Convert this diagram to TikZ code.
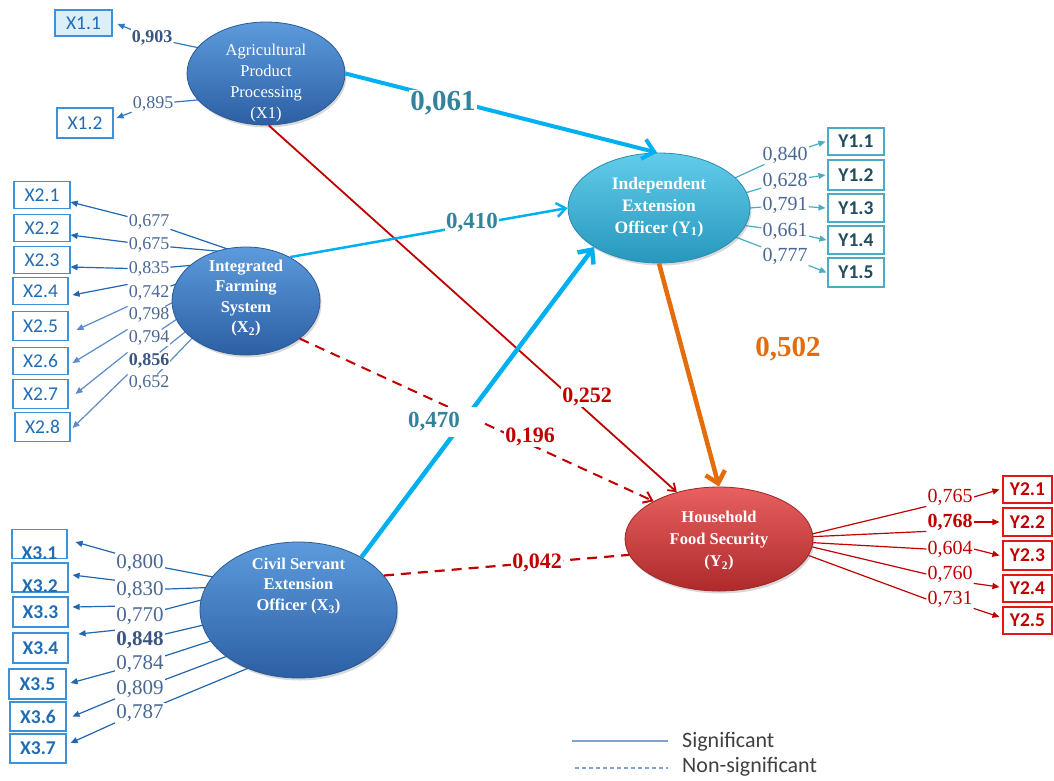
\documentclass[tikz,border=0pt]{standalone}
\usepackage{fontspec}
\setmainfont{Liberation Serif}
\newfontfamily\calib{Carlito}
\usetikzlibrary{arrows.meta,shapes.geometric,shadows}
\pgfdeclarelayer{background}
\pgfsetlayers{background,main}
\definecolor{ellBt}{HTML}{5C9BDD}
\definecolor{ellBb}{HTML}{2C5FA3}
\definecolor{ellBd}{HTML}{2B5A94}
\definecolor{ellCt}{HTML}{62CCEA}
\definecolor{ellCb}{HTML}{2797BD}
\definecolor{ellCd}{HTML}{2A8CAE}
\definecolor{ellRt}{HTML}{E86060}
\definecolor{ellRb}{HTML}{AE2A2A}
\definecolor{ellRd}{HTML}{9E2626}
\definecolor{cyanL}{HTML}{00B0F0}
\definecolor{tealT}{HTML}{31849B}
\definecolor{redL}{HTML}{C00000}
\definecolor{orangeL}{HTML}{E46C0A}
\definecolor{slateT}{HTML}{4A6894}
\definecolor{slateD}{HTML}{3A5580}
\definecolor{boxB}{HTML}{3C92D8}
\definecolor{boxT}{HTML}{1F6DB5}
\definecolor{boxF}{HTML}{DCEEF8}
\definecolor{ldA}{HTML}{2E7BC4}
\definecolor{ldB}{HTML}{2266B0}
\definecolor{ldC}{HTML}{5C8BC8}
\definecolor{yoneB}{HTML}{4BACC6}
\definecolor{yoneT}{HTML}{1E4E5E}
\definecolor{ytwoB}{HTML}{E01818}
\definecolor{legL}{HTML}{7EA3D4}
\definecolor{legT}{HTML}{404040}
\newcommand{\fsz}[2]{\fontsize{#1}{#2}\selectfont}
\begin{document}
\begin{tikzpicture}[x=1pt,y=-1pt,
  ellbase/.style={ellipse, inner sep=0pt, line width=0.8pt,
    drop shadow={opacity=0.3, shadow xshift=1.5pt, shadow yshift=-2.5pt}},
  ellblue/.style={ellbase, draw=ellBd, top color=ellBt, bottom color=ellBb},
  ellcyan/.style={ellbase, draw=ellCd, top color=ellCt, bottom color=ellCb},
  ellred/.style={ellbase, draw=ellRd, top color=ellRt, bottom color=ellRb},
  etxt/.style={text=white, align=center, inner sep=0pt},
  ltxt/.style={fill=white, inner sep=1pt, text=slateT},
  xbox/.style={draw=boxB, line width=1.1pt, inner sep=0pt, minimum width=56,
    minimum height=27, text=boxT, font=\calib\fsz{19.5}{21}},
  xboxb/.style={xbox, font=\calib\bfseries\fsz{19.5}{21}},
  yonebox/.style={draw=yoneB, line width=1.1pt, inner sep=0pt, minimum width=56,
    minimum height=28, text=yoneT, font=\calib\bfseries\fsz{19.5}{21}},
  ytwobox/.style={draw=ytwoB, line width=1.1pt, inner sep=0pt, minimum width=49,
    minimum height=27, text=redL, font=\calib\bfseries\fsz{19.5}{21}},
  ln/.style={draw=#1, line width=1.2pt},
  arr/.style={draw=#1, line width=1.2pt, -{Triangle[length=7pt,width=6pt]}},
  pathlab/.style={fill=white, inner sep=1pt, font=\bfseries},
  legtxt/.style={anchor=west, inner sep=0pt, text=legT, font=\calib\fsz{22}{24}}
]
\useasboundingbox (0,0) rectangle (1054,780);

% ---------------- latent variables ----------------
\node[ellblue, minimum width=158, minimum height=103] (X1) at (266,73.5) {};
\node[ellblue, minimum width=148, minimum height=108] (X2) at (246,301) {};
\node[ellblue, minimum width=197, minimum height=136] (X3) at (298.5,610) {};
\node[ellcyan, minimum width=182, minimum height=110] (Y1) at (659,208) {};
\node[ellred, minimum width=188, minimum height=104] (Y2) at (719,539) {};

\node[etxt, font=\fsz{16.5}{20.7}] (X1t) at (266,83) {Agricultural\\Product\\Processing\\(X1)};
\node[etxt, font=\bfseries\fsz{16.5}{20.5}] (X2t) at (246,298) {Integrated\\Farming\\System\\(X\textsubscript{2})};
\node[etxt, font=\bfseries\fsz{16.5}{20.5}] (X3t) at (298.5,586) {Civil Servant\\Extension\\Officer (X\textsubscript{3})};
\node[etxt, font=\bfseries\fsz{17.5}{22}] (Y1t) at (659,207) {Independent\\Extension\\Officer (Y\textsubscript{1})};
\node[etxt, font=\bfseries\fsz{16.5}{22}] (Y2t) at (719,541) {Household\\Food Security\\(Y\textsubscript{2})};

% ---------------- indicator boxes ----------------
\node[xbox, fill=boxF, minimum width=57, minimum height=26] (b11) at (83.5,23) {X1.1};
\node[xbox, minimum height=30] (b12) at (85,123) {X1.2};

\node[xbox] (b21) at (42,195) {X2.1};
\node[xbox] (b22) at (42,228) {X2.2};
\node[xbox] (b23) at (42,260) {X2.3};
\node[xbox, minimum width=55] (b24) at (40.5,291) {X2.4};
\node[xbox, minimum width=55, minimum height=29] (b25) at (40.5,326) {X2.5};
\node[xbox, minimum width=55] (b26) at (40.5,361) {X2.6};
\node[xbox, minimum width=55, minimum height=29] (b27) at (40.5,394) {X2.7};
\node[xbox, minimum width=55, minimum height=29] (b28) at (42.5,427) {X2.8};

\node[xboxb, minimum width=55, minimum height=29] (b31) at (39.5,544) {\smash{\raisebox{-15pt}{X3.1}}};
\node[xboxb, minimum height=29] (b32) at (40,577.5) {\smash{\raisebox{-15pt}{X3.2}}};
\node[xboxb, minimum width=55, minimum height=30] (b33) at (40.5,612) {X3.3};
\node[xboxb, minimum width=55, minimum height=30] (b34) at (40.5,648) {X3.4};
\node[xboxb, minimum width=57, minimum height=30] (b35) at (37.5,684) {X3.5};
\node[xboxb, minimum height=29] (b36) at (38,716.5) {X3.6};
\node[xboxb, minimum height=29] (b37) at (38,748.5) {X3.7};

\node[yonebox, minimum height=27] (c11) at (856,141.5) {Y1.1};
\node[yonebox, minimum height=30] (c12) at (856,175) {Y1.2};
\node[yonebox] (c13) at (856,208) {Y1.3};
\node[yonebox] (c14) at (856,240) {Y1.4};
\node[yonebox, minimum height=29] (c15) at (856,272.5) {Y1.5};

\node[ytwobox] (c21) at (1027.5,489.5) {Y2.1};
\node[ytwobox, minimum height=28] (c22) at (1027.5,522) {Y2.2};
\node[ytwobox, minimum height=29] (c23) at (1027.5,555.5) {Y2.3};
\node[ytwobox] (c24) at (1027.5,588.5) {Y2.4};
\node[ytwobox] (c25) at (1027.5,620.5) {Y2.5};

% ---------------- loading labels ----------------
\node[ltxt, text=slateD, font=\bfseries\fsz{18}{20}] (l11) at (152,38) {0,903};
\node[ltxt, font=\fsz{18}{20}] (l12) at (153,104) {0,895};

\begin{scope}[every node/.style={ltxt, font=\fsz{18}{20}}]
\node (l21) at (149,222) {0,677};
\node (l22) at (149,245) {0,675};
\node (l23) at (149,269) {0,835};
\node (l24) at (149,293) {0,742};
\node (l25) at (149,315) {0,798};
\node (l26) at (149,338) {0,794};
\node[text=slateD, font=\bfseries\fsz{18}{20}] (l27) at (149,361) {0,856};
\node (l28) at (149,383) {0,652};
\end{scope}

\begin{scope}[every node/.style={ltxt, font=\fsz{21}{23}}]
\node (l31) at (140,563) {0,800};
\node (l32) at (140,590) {0,830};
\node (l33) at (140,616) {0,770};
\node[text=slateD, font=\bfseries\fsz{21}{23}] (l34) at (140,640) {0,848};
\node (l35) at (140,664) {0,784};
\node (l36) at (140,689) {0,809};
\node (l37) at (140,713) {0,787};
\end{scope}

\begin{scope}[every node/.style={ltxt, font=\fsz{20}{22}}]
\node (m11) at (785,155) {0,840};
\node (m12) at (785,181) {0,628};
\node (m13) at (785,205) {0,791};
\node (m14) at (785,231) {0,661};
\node (m15) at (785,256) {0,777};
\end{scope}

\begin{scope}[every node/.style={ltxt, text=redL, font=\fsz{20}{22}}]
\node (m21) at (950,497) {0,765};
\node[font=\bfseries\fsz{20}{22}] (m22) at (950,522) {0,768};
\node (m23) at (950,549) {0,604};
\node (m24) at (950,574) {0,760};
\node (m25) at (950,599) {0,731};
\end{scope}

% ---------------- loading connectors (behind) ----------------
\begin{pgfonlayer}{background}
\fill[white] (0,0) rectangle (1054,780);
% X1
\draw[ln=ldA] (238,56) -- (l11);
\draw[arr=ldA] (l11) -- ([xshift=5pt,yshift=-1pt]b11.east);
\draw[ln=ldA] (241,96) -- (l12);
\draw[arr=ldA] (l12) -- ([xshift=3pt,yshift=5pt]b12.east);
% X2
\draw[ln=ldB] (277,266) -- (l21);
\draw[ln=ldB] (272,256) -- (l22);
\draw[ln=ldB] (230,262) -- (l23);
\draw[ln=ldB] (220,270) -- (l24);
\draw[ln=ldC] (215,280) -- (l25);
\draw[ln=ldC] (205,300) -- (l26);
\draw[ln=ldC] (200,320) -- (l27);
\draw[ln=ldC] (200,330) -- (l28);
\draw[arr=ldB] (l21) -- ([yshift=-7pt]b21.east);
\draw[arr=ldB] (l22) -- ([yshift=-7pt]b22.east);
\draw[arr=ldB] (l23) -- ([yshift=-7pt]b23.east);
\draw[arr=ldB] (l24.north west) -- ([xshift=4pt,yshift=-4pt]b24.east);
\draw[arr=ldC] (l25.north west) -- ([xshift=8pt,yshift=-4pt]b25.east);
\draw[arr=ldC] (l26.north west) -- ([xshift=4pt,yshift=-2pt]b26.east);
\draw[arr=ldC] (l27.north west) -- ([xshift=7pt]b27.east);
\draw[arr=ldC] (l28.north west) -- ([xshift=2pt,yshift=-1pt]b28.east);
% X3
\draw[ln=ldB] (260,586) -- (l31);
\draw[ln=ldB] (250,586) -- (l32);
\draw[ln=ldB] (247,588) -- (l33);
\draw[ln=ldB] (250,614) -- (l34);
\draw[ln=ldB] (260,625) -- (l35);
\draw[ln=ldB] (270,640) -- (l36);
\draw[ln=ldB] (280,655) -- (l37);
\draw[arr=ldB] (l31.north west) -- ([xshift=8pt,yshift=2pt]b31.east);
\draw[arr=ldB] (l32.north west) -- ([xshift=4pt,yshift=2.5pt]b32.east);
\draw[arr=ldB] (l33.north west) -- ([xshift=4pt,yshift=5pt]b33.east);
\draw[arr=ldB] (l34.north west) -- ([xshift=10pt,yshift=14pt]b34.east);
\draw[arr=ldB] (l35) -- ([xshift=4pt,yshift=1pt]b35.east);
\draw[arr=ldB] (l36.south west) -- ([xshift=6pt]b36.east);
\draw[arr=ldB] (l37.south west) -- ([xshift=4pt,yshift=5.5pt]b37.east);
% Y1
\draw[ln=yoneB] (689,199) -- (m11);
\draw[ln=yoneB] (705,205) -- (m12);
\draw[ln=yoneB] (715,211) -- (m13);
\draw[ln=yoneB] (711,221) -- (m14);
\draw[ln=yoneB] (691,220) -- (m15);
\draw[arr=yoneB] (m11) -- ([xshift=-2pt]c11.west);
\draw[arr=yoneB] (m12) -- ([xshift=-2pt]c12.west);
\draw[arr=yoneB] (m13) -- ([xshift=-2pt]c13.west);
\draw[arr=yoneB] (m14) -- ([xshift=-1pt]c14.west);
\draw[arr=yoneB] (m15) -- ([xshift=-1pt]c15.west);
% Y2
\draw[ln=redL] (783,541) -- (m21.south west);
\draw[ln=redL] (783,538) -- (m22.south west);
\draw[ln=redL] (783,541) -- (m23.west);
\draw[ln=redL] (783,540) -- (m24.west);
\draw[ln=redL] (783,546) -- (m25.west);
\draw[arr=redL] (m21.east) -- ([xshift=-3pt]c21.west);
\draw[arr=redL] (m22.east) -- ([xshift=-3pt]c22.west);
\draw[arr=redL] (m23.east) -- ([xshift=-3pt]c23.west);
\draw[arr=redL] (m24.south east) -- ([xshift=-3pt,yshift=1.5pt]c24.west);
\draw[arr=redL] (m25.south east) -- ([xshift=-3pt,yshift=3.5pt]c25.west);
\end{pgfonlayer}

% ---------------- structural paths ----------------
\draw[redL, line width=2pt, dash pattern=on 10pt off 7pt,
  -{Straight Barb[length=8pt,width=12pt]}] (X2.-35) -- (Y2.150);
\draw[redL, line width=2.2pt, dash pattern=on 10pt off 7pt] (X3.22) -- (Y2.190);
\draw[redL, line width=1.8pt, -{Straight Barb[length=7pt,width=10pt]}] (X1.-87) -- (Y2.132);
\draw[cyanL, line width=4pt, -{Straight Barb[length=11pt,width=20pt]}] (X1.east) -- (Y1.92);
\draw[cyanL, line width=2.5pt, -{Straight Barb[length=9pt,width=14pt]}] (X2.45) -- (Y1.west);
\draw[cyanL, line width=4.5pt, -{Straight Barb[length=11pt,width=20pt]}] (X3.40) -- (Y1.211);
\draw[orangeL, line width=4.5pt, -{Straight Barb[length=11pt,width=20pt]}] (Y1.south) -- (Y2.north);

\node[pathlab, text=tealT, font=\bfseries\fsz{29}{31}] (p1) at (443,103) {0,061};
\node[pathlab, text=tealT, font=\bfseries\fsz{23}{25}] (p2) at (472,223) {0,410};
\node[pathlab, text=tealT, font=\bfseries\fsz{23}{25}, anchor=west, text width=70pt,
  align=left, minimum height=30] (p3) at (407,422) {0,470};
\node[pathlab, text=redL, font=\bfseries\fsz{22}{24}] (p4) at (587,397) {0,252};
\node[pathlab, text=redL, font=\bfseries\fsz{22}{24}] (p5) at (530,437) {0,196};
\node[pathlab, text=redL, font=\bfseries\fsz{22}{24}] (p6) at (537,563) {0,042};
\node[text=orangeL, inner sep=1pt, font=\bfseries\fsz{29}{31}] (p7) at (788,349) {0,502};

% ---------------- legend ----------------
\coordinate (g1a) at (572,741);
\coordinate (g1b) at (668,741);
\coordinate (g2a) at (575,768);
\coordinate (g2b) at (668,768);
\draw[legL, line width=1.5pt] (g1a) -- (g1b);
\draw[legL, line width=1.2pt, dash pattern=on 4pt off 3pt] (g2a) -- (g2b);
\node[legtxt] (g1t) at (682,742) {Significant};
\node[legtxt] (g2t) at (682,767) {Non-significant};
\end{tikzpicture}
\end{document}
